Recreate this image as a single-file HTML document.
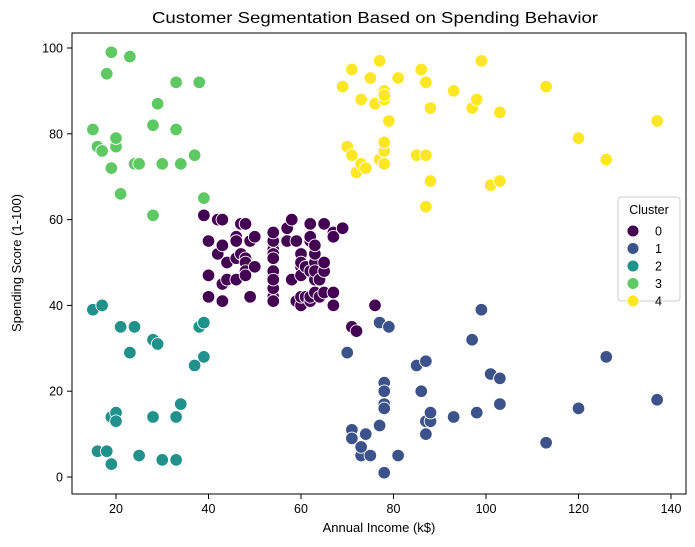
<!DOCTYPE html>
<html><head><meta charset="utf-8"><style>
body{margin:0;background:#fff;}
svg{display:block;font-family:"Liberation Sans","DejaVu Sans",sans-serif;}
</style></head><body>
<svg id="chart" width="695" height="547" viewBox="0 0 695 547">
<rect x="0" y="0" width="695" height="547" fill="#fff"/>
<text x="375" y="23" text-anchor="middle" font-size="16" textLength="446" lengthAdjust="spacingAndGlyphs">Customer Segmentation Based on Spending Behavior</text>
<g id="xticks"></g>
<g id="yticks"></g>
<g id="points"></g>
<rect x="72" y="33" width="614" height="461" fill="none" stroke="#000" stroke-width="1"/>
<text x="379" y="532" text-anchor="middle" font-size="13">Annual Income (k$)</text>
<text transform="translate(21,263) rotate(-90)" text-anchor="middle" font-size="13">Spending Score (1-100)</text>
<g id="legend"></g>
</svg>
<script>
const income=[15,15,16,16,17,17,18,18,19,19,19,19,20,20,20,20,21,21,23,23,24,24,25,25,28,28,28,28,29,29,30,30,33,33,33,33,34,34,37,37,38,38,39,39,39,39,40,40,40,40,42,42,43,43,43,43,44,44,46,46,46,46,47,47,48,48,48,48,48,48,49,49,50,50,54,54,54,54,54,54,54,54,54,54,54,54,57,57,58,58,59,59,60,60,60,60,60,60,61,61,62,62,62,62,62,62,63,63,63,63,63,63,64,64,65,65,65,65,67,67,67,67,69,69,70,70,71,71,71,71,71,71,72,72,73,73,73,73,74,74,75,75,76,76,77,77,77,77,78,78,78,78,78,78,78,78,78,78,78,78,79,79,81,81,85,85,86,86,87,87,87,87,87,87,88,88,88,88,93,93,97,97,98,98,99,99,101,101,103,103,103,103,113,113,120,120,126,126,137,137];
const spending=[39,81,6,77,40,76,6,94,3,72,14,99,15,77,13,79,35,66,29,98,35,73,5,73,14,82,32,61,31,87,4,73,4,92,14,81,17,73,26,75,35,92,36,61,28,65,55,47,42,42,52,60,54,60,45,41,50,46,51,46,56,55,52,59,51,59,50,48,59,47,55,42,49,56,47,54,53,48,52,42,51,55,41,44,57,46,58,55,60,46,55,41,49,40,42,52,47,50,42,49,41,48,59,55,56,42,50,46,43,48,52,54,42,46,48,50,43,59,43,57,56,40,58,91,29,77,35,95,11,75,9,75,34,71,5,88,7,73,10,72,5,93,40,87,12,97,36,74,22,90,17,88,20,76,16,89,1,78,1,73,35,83,5,93,26,75,20,95,27,63,13,75,10,92,13,86,15,69,14,90,32,86,15,88,39,97,24,68,17,85,23,69,8,91,16,79,28,74,18,83];
const cluster=[2,3,2,3,2,3,2,3,2,3,2,3,2,3,2,3,2,3,2,3,2,3,2,3,2,3,2,3,2,3,2,3,2,3,2,3,2,3,2,3,2,3,2,0,2,3,
0,0,0,0,0,0,0,0,0,0,0,
0,0,0,0,0,0,0,0,0,0,0,
0,0,0,0,0,0,0,0,0,0,0,
0,0,0,0,0,0,0,0,0,0,0,
0,0,0,0,0,0,0,0,0,0,0,
0,0,0,0,0,0,0,0,0,0,0,
0,0,0,0,0,0,0,0,0,0,0,
4,1,4,0,4,1,4,1,4,0,4,1,4,1,4,1,4,1,4,0,4,
1,4,1,4,1,4,1,4,1,4,1,4,1,4,1,4,1,4,1,4,1,4,1,4,1,4,1,4,
1,4,1,4,1,4,1,4,1,4,1,4,1,4,1,4,1,4,1,4,1,4,1,4,1,4,1,4];
const xTicks=[20,40,60,80,100,120,140];
const yTicks=[0,20,40,60,80,100];
const clusterLabels=["0","1","2","3","4"];
const palette=["#440154","#3b528b","#21918c","#5ec962","#fde725"];

const NS="http://www.w3.org/2000/svg";
function xs(v){return 116+(v-20)*4.625;}
function ys(v){return 477-v*4.29;}
function mk(tag,attrs,parent){const e=document.createElementNS(NS,tag);for(const k in attrs)e.setAttribute(k,attrs[k]);parent.appendChild(e);return e;}

const gx=document.getElementById('xticks');
xTicks.forEach(t=>{
  const l=mk('line',{x1:xs(t),x2:xs(t),y1:494,y2:499,stroke:'#000'},gx);
  
  
  const tx=mk('text',{x:xs(t),y:513,'text-anchor':'middle','font-size':12.5},gx);
  tx.textContent=t;
  
  
});
const gy=document.getElementById('yticks');
yTicks.forEach(t=>{
  const l=mk('line',{x1:67,x2:72,y1:ys(t),y2:ys(t),stroke:'#000'},gy);
  
  
  const tx=mk('text',{x:63,y:ys(t)+4.5,'text-anchor':'end','font-size':12.5},gy);
  tx.textContent=t;
  
  
});
const gp=document.getElementById('points');
income.forEach((v,i)=>{
  const c=mk('circle',{cx:xs(v),cy:ys(spending[i]),r:6.3,fill:palette[cluster[i]],stroke:'#fff','stroke-width':0.9},gp);
  
  
});
const lg=document.getElementById('legend');
const box=mk('rect',{x:618,y:197,width:62,height:104,rx:3,fill:'#fff','fill-opacity':0.8,stroke:'#ccc'},lg);


const lt=mk('text',{x:649,y:214,'text-anchor':'middle','font-size':12.5},lg);
lt.textContent='Cluster';


clusterLabels.forEach((lab,i)=>{
  const y=231+i*17.5;
  const c=mk('circle',{cx:633,cy:y,r:6,fill:palette[i],stroke:'#fff','stroke-width':0.9},lg);
  
  
  const t=mk('text',{x:655,y:y+4.5,'font-size':12.5},lg);
  t.textContent=lab;
  
  
});
</script>
</body></html>
